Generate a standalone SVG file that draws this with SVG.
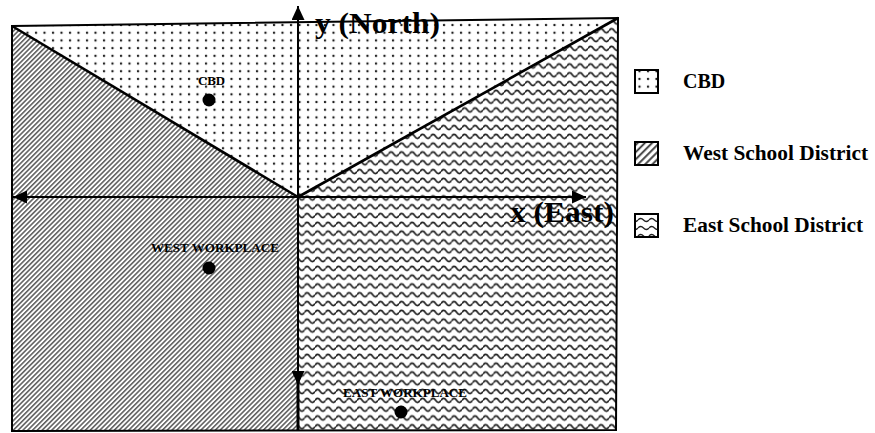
<svg xmlns="http://www.w3.org/2000/svg" width="875" height="433" viewBox="0 0 875 433">
<defs>
<style>
.lbl{font-family:"Liberation Serif","Times New Roman",serif;font-weight:bold;fill:#000}
.edge{stroke:#000;fill:none;stroke-width:2}
.axis{stroke:#000;fill:none;stroke-width:2}
.div{stroke:#000;fill:none;stroke-width:2.6}
.lg{stroke:#000;stroke-width:2}
</style>
<pattern id="dots" width="8.5" height="7.7" patternUnits="userSpaceOnUse">
<circle cx="2" cy="2" r="1.2" fill="#1a1a1a"/>
</pattern>
<pattern id="hatch" width="3.4" height="3.4" patternUnits="userSpaceOnUse" patternTransform="rotate(45)">
<rect width="3.4" height="3.4" fill="#fff"/>
<line x1="0.8" y1="0" x2="0.8" y2="3.4" stroke="#4a4a4a" stroke-width="1.4"/>
</pattern>
<pattern id="hatchL" width="3.4" height="3.4" patternUnits="userSpaceOnUse" patternTransform="rotate(45) scale(1.5)">
<rect width="3.4" height="3.4" fill="#fff"/>
<line x1="0.8" y1="0" x2="0.8" y2="3.4" stroke="#333" stroke-width="1.2"/>
</pattern>
<pattern id="waves" width="10.5" height="8.8" patternUnits="userSpaceOnUse">
<rect width="10.5" height="8.8" fill="#fff"/>
<path d="M0 4.4 Q2.625 0.4 5.25 4.4 Q7.875 8.4 10.5 4.4" stroke="#222" stroke-width="1.7" fill="none"/>
</pattern>
<pattern id="wavesL" width="11" height="8" patternUnits="userSpaceOnUse">
<rect width="11" height="8" fill="#fff"/>
<path d="M0 4 Q2.75 1 5.5 4 Q8.25 7 11 4" stroke="#222" stroke-width="1.3" fill="none"/>
</pattern>
<marker id="ah" viewBox="0 0 14 13" refX="14" refY="6.5" markerWidth="14" markerHeight="13" markerUnits="userSpaceOnUse" orient="auto">
<path d="M0 0 L14 6.5 L0 13 Z" fill="#000"/>
</marker>
</defs>
<rect width="875" height="433" fill="#fff"/>
<g id="cbd-region"><polygon points="12,26 618,18 298,197" fill="url(#dots)"/></g>
<g id="west-region"><polygon points="12,26 298,197 298,430 12,430" fill="url(#hatch)"/></g>
<g id="east-region"><polygon points="298,197 618,18 616,430 298,430" fill="url(#waves)"/></g>
<g id="connectors">
<polygon class="edge" points="12,26 618,18 616,430 12,431"/>
<line class="div" x1="12" y1="26" x2="298" y2="197"/>
<line class="div" x1="298" y1="197" x2="618" y2="18"/>
<line class="axis" x1="298" y1="197" x2="298" y2="6" marker-end="url(#ah)"/>
<line class="axis" x1="298" y1="197" x2="13" y2="197" marker-end="url(#ah)"/>
<line class="axis" x1="298" y1="197" x2="586" y2="197" marker-end="url(#ah)"/>
<line class="axis" x1="298" y1="197" x2="298" y2="385" marker-end="url(#ah)"/>
<line x1="298" y1="380" x2="298" y2="431" stroke="#000" stroke-width="3"/>
</g>
<g id="axis-labels">
<text class="lbl" x="315" y="33" font-size="29" textLength="125" lengthAdjust="spacingAndGlyphs">y (North)</text>
<text class="lbl" x="510" y="222" font-size="29" textLength="104" lengthAdjust="spacingAndGlyphs">x (East)</text>
</g>
<g id="cbd">
<text class="lbl" x="198" y="85" font-size="13" textLength="27" lengthAdjust="spacingAndGlyphs">CBD</text>
<circle cx="209" cy="100" r="6.5" fill="#000"/>
</g>
<g id="west-workplace">
<text class="lbl" x="151" y="252" font-size="12.5" textLength="128" lengthAdjust="spacingAndGlyphs">WEST WORKPLACE</text>
<circle cx="209" cy="268" r="6.5" fill="#000"/>
</g>
<g id="east-workplace">
<text class="lbl" x="343" y="397" font-size="12.5" textLength="124" lengthAdjust="spacingAndGlyphs">EAST WORKPLACE</text>
<circle cx="401" cy="412" r="6.5" fill="#000"/>
</g>
<g id="legend-cbd">
<rect class="lg" x="635" y="70" width="23" height="23" fill="url(#dots)"/>
<text class="lbl" x="683" y="88" font-size="20">CBD</text>
</g>
<g id="legend-west">
<rect class="lg" x="635" y="142" width="23" height="23" fill="url(#hatchL)"/>
<text class="lbl" x="683" y="160" font-size="20" textLength="185" lengthAdjust="spacingAndGlyphs">West School District</text>
</g>
<g id="legend-east">
<rect class="lg" x="635" y="214" width="23" height="23" fill="url(#wavesL)"/>
<text class="lbl" x="683" y="232" font-size="20" textLength="180" lengthAdjust="spacingAndGlyphs">East School District</text>
</g>
</svg>
